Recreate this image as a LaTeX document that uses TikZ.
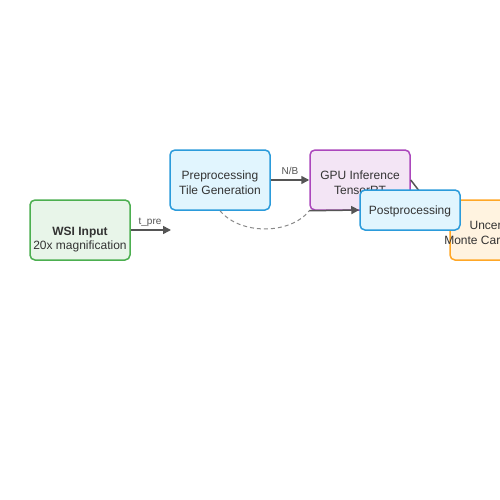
\documentclass[tikz,border=0pt]{standalone}
\usepackage{fontspec}
\setmainfont{Liberation Sans}
\usetikzlibrary{arrows.meta}
\definecolor{txt}{HTML}{333333}
\definecolor{arr}{HTML}{555555}
\definecolor{dsh}{HTML}{8A8A8A}
\definecolor{gfill}{HTML}{E8F5E9}\definecolor{gline}{HTML}{4CAF50}
\definecolor{bfill}{HTML}{E1F5FE}\definecolor{bline}{HTML}{2B9BDB}
\definecolor{pfill}{HTML}{F3E5F5}\definecolor{pline}{HTML}{AB47BC}
\definecolor{ofill}{HTML}{FFF3E0}\definecolor{oline}{HTML}{FFA726}
\tikzset{
  box/.style={draw, rounded corners=5pt, line width=1.5pt, minimum width=100pt, minimum height=60pt, inner sep=0pt},
  smallbox/.style={box, minimum height=40pt},
  boxtext/.style={anchor=base, inner sep=0pt, text=txt, font=\fontsize{12}{14}\selectfont},
  edgelabel/.style={anchor=base, inner sep=0pt, text=arr, font=\fontsize{10}{12}\selectfont},
  conn/.style={draw=arr, line width=1.5pt, -{Triangle[length=8pt,width=8pt]}},
  dashconn/.style={draw=dsh, line width=1pt, dash pattern=on 4pt off 3pt},
}
\begin{document}
\begin{tikzpicture}[x=1pt,y=-1pt]
\useasboundingbox (0,0) rectangle (500,500);
\clip (0,0) rectangle (500,500);
\fill[white] (0,0) rectangle (500,500);
% boxes
\node[box, fill=gfill, draw=gline] (wsi) at (80,230) {};
\node[box, fill=bfill, draw=bline] (pre) at (220,180) {};
\node[box, fill=pfill, draw=pline] (gpu) at (360,180) {};
\node[box, fill=ofill, draw=oline] (unc) at (500,230) {};
% texts
\node[boxtext, font=\fontsize{12}{14}\selectfont\bfseries] (wsi1) at (80,235) {WSI Input};
\node[boxtext] (wsi2) at (80,249.5) {20x magnification};
\node[boxtext] (pre1) at (220,179.5) {Preprocessing};
\node[boxtext] (pre2) at (220,194) {Tile Generation};
\node[boxtext] (gpu1) at (360,179.5) {GPU Inference};
\node[boxtext] (gpu2) at (360,194) {TensorRT};
\node[boxtext] (unc1) at (500,229.5) {Uncertainty};
\node[boxtext] (unc2) at (500,244.3) {Monte Carlo Dropout};
% connectors
\coordinate (tpreend) at (171,230);
\draw[conn] (wsi.east) -- (tpreend);
\node[edgelabel] (lpre) at (150,224.5) {t\_pre};
\draw[conn] (pre.east) -- (gpu.west);
\node[edgelabel] (lnb) at (290,174.7) {N/B};
\draw[dashconn] (pre.south) .. controls (240,235) and (290,235) .. (gpu.south west);
\draw[conn] (gpu.east) -- (unc.west);
% postprocessing on top
\node[smallbox, fill=bfill, draw=bline] (post) at (410,210) {};
\node[boxtext] (post1) at (410,214.3) {Postprocessing};
\draw[conn] (gpu.south west) -- (post.west);
\end{tikzpicture}
\end{document}
